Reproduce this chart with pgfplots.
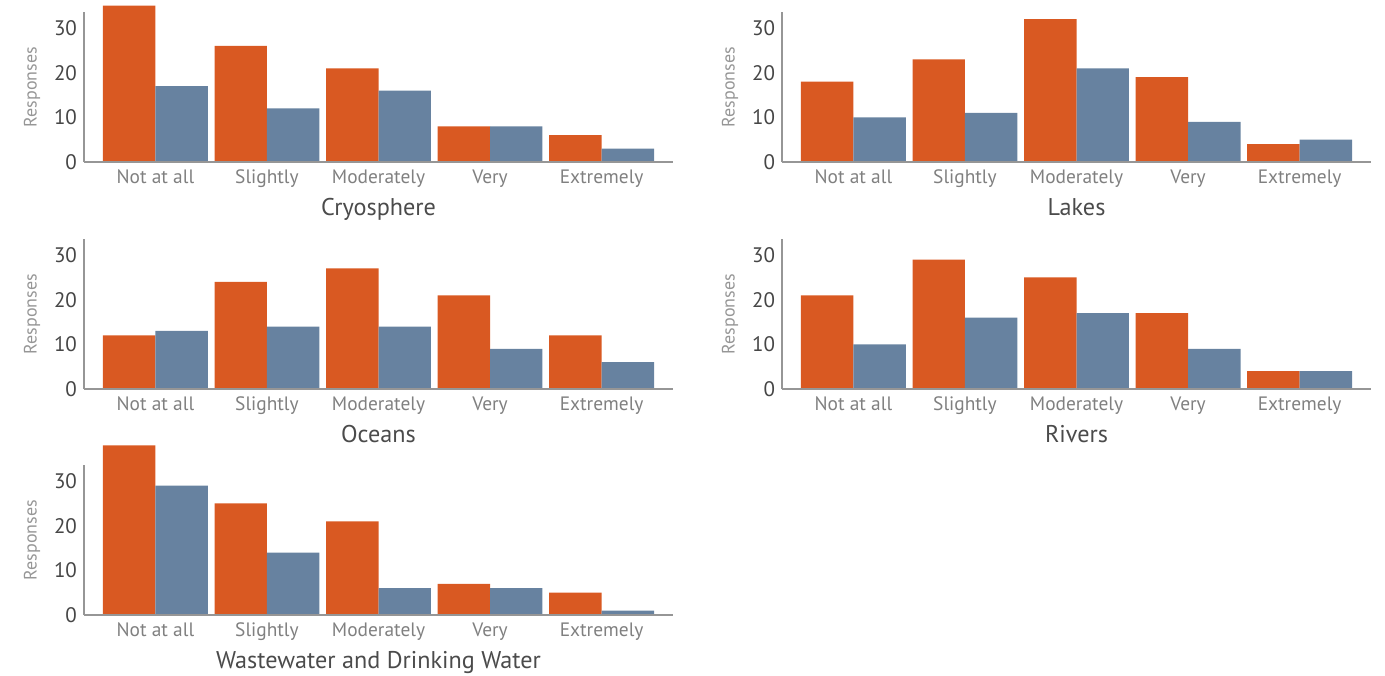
\documentclass[border=0pt]{standalone}
\usepackage{pgfplots}
\pgfplotsset{compat=1.18}
\usepackage{fontspec}
\setmainfont{PT Sans}
\definecolor{orng}{RGB}{217,89,34}
\definecolor{blu}{RGB}{103,130,160}
\definecolor{axgray}{RGB}{150,150,150}
\definecolor{numgray}{RGB}{70,70,70}
\definecolor{catgray}{RGB}{128,128,128}
\definecolor{labgray}{RGB}{150,150,150}
\definecolor{titgray}{RGB}{75,75,75}
\pgfplotsset{
  panel/.style={
    scale only axis, width=294.5pt, height=75pt,
    ybar=0pt, bar width=0.47,
    xmin=-0.64, xmax=4.64, ymin=0, ymax=33.6,
    axis x line*=bottom, axis y line*=left,
    axis line style={draw=axgray, line width=1pt, -},
    xtick={0,1,2,3,4},
    xticklabels={Not at all, Slightly, Moderately, Very, Extremely},
    ytick={0,10,20,30},
    major tick length=0pt,
    /pgf/number format/assume math mode=true,
    yticklabel style={font=\fontsize{10.5}{12}\selectfont, text=numgray},
    xticklabel style={font=\fontsize{9.7}{11}\selectfont, text=catgray, yshift=-0.5pt},
    ylabel=Responses,
    ylabel style={font=\fontsize{9}{10}\selectfont, text=labgray},
    xlabel style={at={(axis description cs:0.5,0)}, anchor=base, yshift=-26.5pt,
                  font=\fontsize{12.1}{14}\selectfont, text=titgray},
    clip=false,
    axis on top,
  },
  orb/.style={fill=orng, draw=none},
  blb/.style={fill=blu, draw=none},
}
\begin{document}
\begin{tikzpicture}
\useasboundingbox (0,0) rectangle (692.5pt,-337.5pt);
% Cryosphere
\begin{axis}[panel, at={(42pt,-81pt)}, anchor=south west, xlabel=Cryosphere]
\addplot[orb] coordinates {(0,35) (1,26) (2,21) (3,8) (4,6)};
\addplot[blb] coordinates {(0,17) (1,12) (2,16) (3,8) (4,3)};
\end{axis}
% Lakes
\begin{axis}[panel, at={(391pt,-81pt)}, anchor=south west, xlabel=Lakes]
\addplot[orb] coordinates {(0,18) (1,23) (2,32) (3,19) (4,4)};
\addplot[blb] coordinates {(0,10) (1,11) (2,21) (3,9) (4,5)};
\end{axis}
% Oceans
\begin{axis}[panel, at={(42pt,-194.5pt)}, anchor=south west, xlabel=Oceans]
\addplot[orb] coordinates {(0,12) (1,24) (2,27) (3,21) (4,12)};
\addplot[blb] coordinates {(0,13) (1,14) (2,14) (3,9) (4,6)};
\end{axis}
% Rivers
\begin{axis}[panel, at={(391pt,-194.5pt)}, anchor=south west, xlabel=Rivers]
\addplot[orb] coordinates {(0,21) (1,29) (2,25) (3,17) (4,4)};
\addplot[blb] coordinates {(0,10) (1,16) (2,17) (3,9) (4,4)};
\end{axis}
% Wastewater
\begin{axis}[panel, at={(42pt,-307.5pt)}, anchor=south west, xlabel=Wastewater and Drinking Water]
\addplot[orb] coordinates {(0,38) (1,25) (2,21) (3,7) (4,5)};
\addplot[blb] coordinates {(0,29) (1,14) (2,6) (3,6) (4,1)};
\end{axis}
\end{tikzpicture}
\end{document}
